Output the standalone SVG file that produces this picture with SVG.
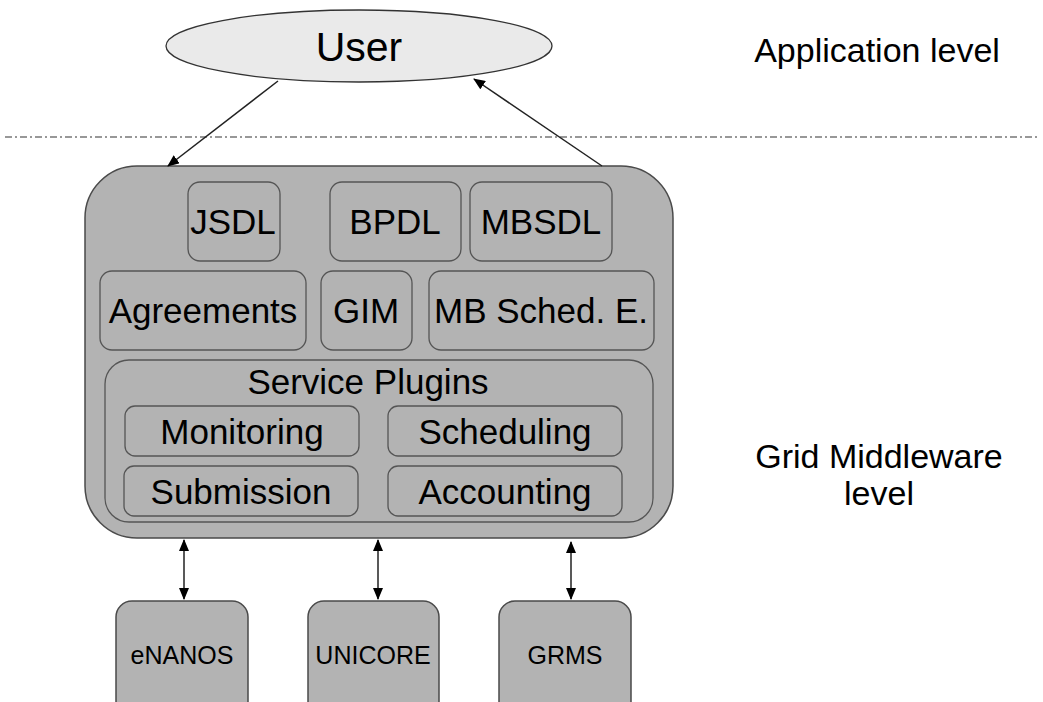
<svg xmlns="http://www.w3.org/2000/svg" width="1043" height="702" viewBox="0 0 1043 702">
<defs>
<style>
text{font-family:'Liberation Sans',sans-serif;fill:#000;text-anchor:middle}
.box{fill:#b3b3b3;stroke:#4a4a4a;stroke-width:1.5}
.in{fill:#b3b3b3;stroke:#555;stroke-width:1.3}
.lbl{font-size:35px}
.sm{font-size:25px}
.side{font-size:34px}
.conn{stroke:#222;stroke-width:1.5;fill:none}
</style>
<marker id="ah" viewBox="0 0 12 10" refX="11" refY="5" markerWidth="12" markerHeight="10" orient="auto-start-reverse" markerUnits="userSpaceOnUse">
<path d="M0,0 L12,5 L0,10 z" fill="#000"/>
</marker>
</defs>
<rect width="1043" height="702" fill="#fff"/>
<line x1="5" y1="137" x2="1040" y2="137" stroke="#333" stroke-width="1.2" stroke-dasharray="7 3 2 3"/>
<g id="user"><ellipse cx="359" cy="46" rx="193" ry="36" fill="#eaeaea" stroke="#333" stroke-width="1.3"/><text x="359" y="61" font-family="Liberation Sans, sans-serif" style="font-size:41px">User</text></g>
<g id="app-level"><text class="side" x="877" y="62">Application level</text></g>
<g id="grid-level"><text class="side" x="879" y="468">Grid Middleware</text><text class="side" x="879" y="505">level</text></g>
<g id="middleware"><rect class="box" x="85" y="166" width="588" height="372" rx="52"/></g>
<g id="jsdl"><rect class="in" x="188" y="182" width="92" height="79" rx="12"/><text class="lbl" x="233" y="234">JSDL</text></g>
<g id="bpdl"><rect class="in" x="330" y="182" width="131" height="79" rx="12"/><text class="lbl" x="395" y="234">BPDL</text></g>
<g id="mbsdl"><rect class="in" x="470" y="182" width="142" height="79" rx="12"/><text class="lbl" x="541" y="234">MBSDL</text></g>
<g id="agreements"><rect class="in" x="100" y="271" width="206" height="79" rx="12"/><text class="lbl" x="203" y="323">Agreements</text></g>
<g id="gim"><rect class="in" x="321" y="271" width="91" height="79" rx="12"/><text class="lbl" x="366" y="323">GIM</text></g>
<g id="mbsched"><rect class="in" x="429" y="271" width="225" height="79" rx="12"/><text class="lbl" x="541" y="323">MB Sched. E.</text></g>
<g id="service-plugins"><rect class="in" x="105" y="360" width="548" height="162" rx="24"/><text class="lbl" x="368" y="394">Service Plugins</text></g>
<g id="monitoring"><rect class="in" x="125" y="406" width="234" height="50" rx="10"/><text class="lbl" x="242" y="444">Monitoring</text></g>
<g id="scheduling"><rect class="in" x="388" y="406" width="234" height="50" rx="10"/><text class="lbl" x="505" y="444">Scheduling</text></g>
<g id="submission"><rect class="in" x="124" y="466" width="234" height="50" rx="10"/><text class="lbl" x="241" y="504">Submission</text></g>
<g id="accounting"><rect class="in" x="388" y="466" width="234" height="50" rx="10"/><text class="lbl" x="505" y="504">Accounting</text></g>
<g id="enanos"><rect class="box" x="116" y="601" width="132" height="120" rx="16"/><text class="sm" x="182" y="664">eNANOS</text></g>
<g id="unicore"><rect class="box" x="308" y="601" width="131" height="120" rx="16"/><text class="sm" x="373" y="664">UNICORE</text></g>
<g id="grms"><rect class="box" x="499" y="601" width="132" height="120" rx="16"/><text class="sm" x="565" y="664">GRMS</text></g>
<g id="connectors">
<line class="conn" x1="278" y1="81" x2="168" y2="166" marker-end="url(#ah)"/>
<line class="conn" x1="602" y1="166" x2="474" y2="79" marker-end="url(#ah)"/>
<line class="conn" x1="184" y1="540" x2="184" y2="599" marker-start="url(#ah)" marker-end="url(#ah)"/>
<line class="conn" x1="378" y1="540" x2="378" y2="599" marker-start="url(#ah)" marker-end="url(#ah)"/>
<line class="conn" x1="571" y1="542" x2="571" y2="599" marker-start="url(#ah)" marker-end="url(#ah)"/>
</g>
</svg>
